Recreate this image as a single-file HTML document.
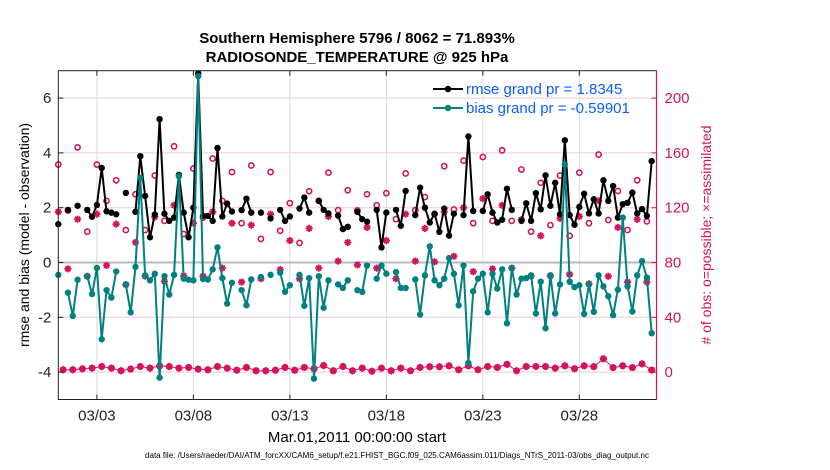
<!DOCTYPE html>
<html><head><meta charset="utf-8"><style>
body{margin:0;background:#fff;width:830px;height:470px;overflow:hidden}
svg{display:block;font-family:"Liberation Sans",sans-serif}
</style></head><body>
<svg id="chart" width="830" height="470" viewBox="0 0 830 470" xmlns="http://www.w3.org/2000/svg">
<text x="357" y="43" text-anchor="middle" font-weight="bold" font-size="15">Southern Hemisphere 5796 / 8062 = 71.893%</text>
<text x="357" y="62" text-anchor="middle" font-weight="bold" font-size="15">RADIOSONDE_TEMPERATURE @ 925 hPa</text>
<g id="grid"></g><g id="marks"></g><g id="axes"></g>
<text transform="translate(29,235) rotate(-90)" text-anchor="middle" font-size="14">rmse and bias (model - observation)</text>
<text transform="translate(711,235) rotate(-90)" text-anchor="middle" font-size="14" fill="#d4145a"># of obs: o=possible; ×=assimilated</text>
<text x="357" y="442" text-anchor="middle" font-size="15">Mar.01,2011 00:00:00 start</text>
<text x="145" y="458" font-size="8" textLength="504" lengthAdjust="spacingAndGlyphs">data file: /Users/raeder/DAI/ATM_forcXX/CAM6_setup/f.e21.FHIST_BGC.f09_025.CAM6assim.011/Diags_NTrS_2011-03/obs_diag_output.nc</text>
<g>
<line x1="433" y1="89" x2="463" y2="89" stroke="#000" stroke-width="2"/><circle cx="448" cy="89" r="3.2" fill="#000"/>
<text x="466" y="94" font-size="15" fill="#0a5cff">rmse grand pr = 1.8345</text>
<line x1="433" y1="108" x2="463" y2="108" stroke="#008080" stroke-width="2"/><circle cx="448" cy="108" r="3.2" fill="#008080"/>
<text x="466" y="113" font-size="15" fill="#0a5cff">bias grand pr = -0.59901</text>
</g>
</svg>
<script>
const N=null;
const rmse=[1.40,N,1.92,N,2.07,N,1.92,1.67,2.1,3.45,1.87,1.82,1.76,N,2.54,N,1.85,3.88,2.43,0.92,1.75,5.23,1.78,1.52,1.64,3.2,1.82,0.92,2.0,6.9,1.7,1.7,1.52,4.18,1.68,2.15,1.86,N,1.91,2.33,1.82,N,1.82,N,1.61,N,1.92,1.52,1.68,N,1.97,2.37,1.82,N,2.25,1.92,1.79,N,1.71,1.22,1.3,N,1.85,1.58,1.49,N,1.92,0.55,1.82,N,1.92,1.34,2.61,N,1.73,2.73,2.0,1.46,1.78,1.12,1.97,0.98,1.78,N,1.73,4.6,1.88,N,1.88,2.49,1.82,1.46,1.56,2.69,1.92,N,1.52,2.16,1.52,2.53,1.94,3.18,2.07,2.91,1.76,4.46,1.73,1.38,2.03,2.51,1.79,2.31,1.79,3.0,2.25,2.79,1.64,2.13,2.18,2.55,1.79,1.95,1.70,3.70];
const bias=[-0.45,N,-1.1,-1.95,-0.63,N,-0.5,-1.15,-0.2,-2.8,-1.01,-1.28,-0.33,N,-0.8,-1.82,-0.16,3.09,-0.47,-0.65,-0.41,-4.2,-0.5,-1.17,-0.45,3.15,-0.59,-0.63,-0.65,6.8,-0.6,-0.62,-0.25,0.55,-0.57,-1.5,-0.74,N,-1.01,-1.56,-0.62,N,-0.53,N,-0.45,N,-0.37,-1.07,-0.83,N,-0.45,-1.58,-0.57,-4.24,-0.5,-1.65,-0.65,N,-0.8,-0.93,-0.65,N,-1.01,-1.07,-0.11,N,-0.59,-0.11,-0.41,N,-0.35,-0.93,-0.93,N,-0.62,-1.9,-0.47,0.59,-0.65,-0.83,-0.59,0.16,-0.41,-1.56,-0.11,-3.67,-1.05,-0.59,-0.41,-1.82,-0.41,-0.95,-0.25,-2.22,-0.2,-1.17,-0.59,-0.57,-0.47,-1.86,-0.7,-2.4,-0.47,-1.86,-0.8,3.58,-0.7,-0.9,-0.83,-1.88,-0.8,-1.8,-0.47,-0.87,-1.23,-1.92,-0.99,1.64,-0.87,-1.79,-0.47,0.05,-0.55,-2.58];
const possibleMain=[151.5,118,164,102.5,151.5,125,140,103.7,129.8,103.7,143.5,110.4,164.8,100.8,148.6,112.8,155.9,125,146,108.7,150.8,97.2,146,103.2,123.3,94.3,132,125,145.6,118.2,132.8,118,129.8,121.8,130.6,111.6,145,118.2,127.8,115.3,150.3,118.7,154.4,108.7,157,110.4,161.9,110.4,147.9,102.5,138.2,107.3,143.5,99.5,145.6,108.7,158.8,111,132.2,103.7,140,110];
const usedMain=[117,75.4,111.6,69.9,115.3,77.8,108,63.8,94.7,70,113.3,66.2,121.8,70.3,108.7,70,117,75.9,108.7,65.7,107.3,68.2,115.3,74.8,96,68.2,104.9,75.9,113.6,81,94.7,78.3,105.6,75.9,96,68.2,115.3,81,104.9,80.5,117,84.5,120,73.3,126.6,75.4,121.8,75.9,111.3,70,99.5,70.3,112.2,71.3,113.6,64.5,125,69.9,105.6,65.7,111.5,65.7];
const countOff=[1.7,1.7,2.4,2.9,4.1,2.9,1,2.2,4.1,2.9,4.5,4.1,2.9,3.4,2.2,1.7,4.1,2.9,1.4,3.4,1,1,1.4,3.4,1.4,3.4,2.4,4.8,1,4.1,1,2.9,0.6,2.9,1,2.9,1,3.4,3.9,3.9,4.6,1.7,4.6,1.7,4.1,3.4,5.7,1,4.1,4.1,4.1,2.9,4.6,2.5,4.6,4,9.7,3.3,4.6,3.3,6,1.5];
const xTicks=[2,7,12,17,22,27];
const xTickLabels=["03/03","03/08","03/13","03/18","03/23","03/28"];
const yTicks=[-4,-2,0,2,4,6];
const y2Ticks=[0,40,80,120,160,200];

const L=58.3,R=656.5,T=70.7,B=399.5;
const xs=d=>L+(d-0)/(31-0)*(R-L);
const ys=v=>B-(v-(-5))/12*(B-T);
const y2s=v=>B-(v-(-20))/240*(B-T);
const tOf=i=>i*0.25;
const NS="http://www.w3.org/2000/svg";
function mk(tag,attrs,parent){const e=document.createElementNS(NS,tag);for(const k in attrs)e.setAttribute(k,attrs[k]);parent.appendChild(e);return e;}
const grid=document.getElementById('grid'),marks=document.getElementById('marks'),axes=document.getElementById('axes');
const PINK="#d4145a";
mk('rect',{x:L,y:T,width:R-L,height:B-T,fill:'#fff'},grid);
y2Ticks.forEach(v=>{const g=mk('line',{x1:L,x2:R,y1:y2s(v),y2:y2s(v),stroke:'#f3c8d8','stroke-width':1},grid);

});
xTicks.forEach(d=>{const g=mk('line',{x1:xs(d),x2:xs(d),y1:T,y2:B,stroke:'#dcdcdc','stroke-width':1},grid);

});
const zl=mk('line',{x1:L,x2:R,y1:ys(0),y2:ys(0),stroke:'#b8b8b8','stroke-width':2},grid);



function series(vals,color,name){
  const g=mk('g',{},marks);
  
  
  let d='',pen=false;
  vals.forEach((v,i)=>{if(v===null){pen=false;return;}d+=(pen?'L':'M')+xs(tOf(i)).toFixed(1)+' '+ys(v).toFixed(1);pen=true;});
  mk('path',{d:d,fill:'none',stroke:color,'stroke-width':2,'stroke-linejoin':'round'},g);
  vals.forEach((v,i)=>{if(v===null)return;const c=mk('circle',{cx:xs(tOf(i)),cy:ys(v),r:3.2,fill:color},g);
  
  });
}
function star(x,y,g){const s=3.6,p=`M${x-s} ${y}L${x+s} ${y}M${x} ${y-s}L${x} ${y+s}M${x-s*.7} ${y-s*.7}L${x+s*.7} ${y+s*.7}M${x-s*.7} ${y+s*.7}L${x+s*.7} ${y-s*.7}`;
  const e=mk('path',{d:p,stroke:PINK,'stroke-width':1.8,fill:'none'},g);
  
  }
function ring(x,y,g){const e=mk('circle',{cx:x,cy:y,r:2.6,fill:'none',stroke:PINK,'stroke-width':1.6},g);
  
  }
const cg=mk('g',{},marks);


let ld='';
countOff.forEach((v,k)=>{const i=2*k+1;ld+=(k?'L':'M')+xs(tOf(i)).toFixed(1)+' '+y2s(v).toFixed(1);});
mk('path',{d:ld,fill:'none',stroke:PINK,'stroke-width':1},cg);
countOff.forEach((v,k)=>{const i=2*k+1;ring(xs(tOf(i)),y2s(v),cg);star(xs(tOf(i)),y2s(v),cg);});
possibleMain.forEach((v,k)=>ring(xs(tOf(2*k)),y2s(v),cg));
usedMain.forEach((v,k)=>star(xs(tOf(2*k)),y2s(v),cg));
series(rmse,'#000','rmse-series');
series(bias,'#008080','bias-series');

mk('rect',{x:L,y:T,width:R-L,height:B-T,fill:'none',stroke:'#222','stroke-width':1},axes);
const rs=mk('line',{x1:R,x2:R,y1:T,y2:B,stroke:PINK,'stroke-width':1.2},axes);


yTicks.forEach(v=>{mk('line',{x1:L,x2:L+5,y1:ys(v),y2:ys(v),stroke:'#222'},axes);
  const t=mk('text',{x:L-7,y:ys(v)+5,'text-anchor':'end','font-size':15,fill:'#222'},axes);t.textContent=v;
  
  });
y2Ticks.forEach(v=>{mk('line',{x1:R-5,x2:R,y1:y2s(v),y2:y2s(v),stroke:PINK},axes);
  const t=mk('text',{x:R+8,y:y2s(v)+5,'font-size':15,fill:PINK},axes);t.textContent=v;
  
  });
xTicks.forEach((d,j)=>{mk('line',{x1:xs(d),x2:xs(d),y1:B,y2:B-5,stroke:'#222'},axes);mk('line',{x1:xs(d),x2:xs(d),y1:T,y2:T+5,stroke:'#222'},axes);
  const t=mk('text',{x:xs(d),y:B+21,'text-anchor':'middle','font-size':15,fill:'#222'},axes);t.textContent=xTickLabels[j];
  
  });
</script>
</body></html>
